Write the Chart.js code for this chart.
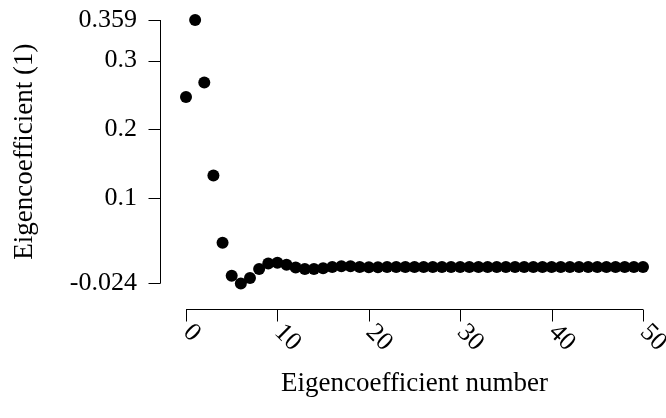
<!DOCTYPE html>
<html>
<head>
<meta charset="utf-8">
<script src="https://cdn.jsdelivr.net/npm/chart.js@4/dist/chart.umd.min.js"></script>
<style>
  html, body { margin: 0; padding: 0; background: #fff; }
  #wrap { width: 666px; height: 418px; }
</style>
</head>
<body>
<div id="wrap"><canvas id="c" width="666" height="418"></canvas></div>
<script>
// ---- data ----
const coefficientNumbers = [
  0, 1, 2, 3, 4, 5, 6, 7, 8, 9,
  10, 11, 12, 13, 14, 15, 16, 17, 18, 19,
  20, 21, 22, 23, 24, 25, 26, 27, 28, 29,
  30, 31, 32, 33, 34, 35, 36, 37, 38, 39,
  40, 41, 42, 43, 44, 45, 46, 47, 48, 49, 50
];
const coefficientValues = [
  0.247, 0.359, 0.268, 0.133, 0.035, -0.013, -0.024, -0.016, -0.003, 0.005,
  0.006, 0.003, -0.001, -0.003, -0.003, -0.002, 0.000, 0.001, 0.001, 0.000,
  -0.0005, -0.0005, 0.000, 0.000, 0.000, 0.000, 0.000, 0.000, 0.000, 0.000,
  0.000, 0.000, 0.000, 0.000, 0.000, 0.000, 0.000, 0.000, 0.000, 0.000,
  0.000, 0.000, 0.000, 0.000, 0.000, 0.000, 0.000, 0.000, 0.000, 0.000, 0.000
];
const yTickValues = [-0.024, 0.1, 0.2, 0.3, 0.359];
const xTickValues = [0, 10, 20, 30, 40, 50];
const xTitle = 'Eigencoefficient number';
const yTitle = 'Eigencoefficient (1)';

// ---- styling ----
const FONT_FAMILY = '"Liberation Serif", "DejaVu Serif", serif';
const TICK_FONT_SIZE = 26;
const TITLE_FONT_SIZE = 27;
const AXIS_GAP = 26;     // detached axes offset from data range
const TICK_LEN = 12;

const points = coefficientNumbers.map((n, i) => ({ x: n, y: coefficientValues[i] }));

const detachedAxes = {
  id: 'detachedAxes',
  afterDraw(chart) {
    const { ctx, chartArea, scales } = chart;
    const xs = scales.x, ys = scales.y;
    ctx.save();
    ctx.strokeStyle = '#000';
    ctx.lineWidth = 1;
    // y axis
    const axX = Math.round(chartArea.left - AXIS_GAP) + 0.5;
    const yTop = ys.getPixelForValue(yTickValues[yTickValues.length - 1]);
    const yBot = ys.getPixelForValue(yTickValues[0]);
    ctx.beginPath();
    ctx.moveTo(axX, yTop);
    ctx.lineTo(axX, yBot);
    yTickValues.forEach(v => {
      const py = Math.round(ys.getPixelForValue(v)) + 0.5;
      ctx.moveTo(axX - TICK_LEN, py);
      ctx.lineTo(axX, py);
    });
    ctx.stroke();
    // x axis
    const axY = Math.round(chartArea.bottom + AXIS_GAP) + 0.5;
    const xL = xs.getPixelForValue(xTickValues[0]);
    const xR = xs.getPixelForValue(xTickValues[xTickValues.length - 1]);
    ctx.beginPath();
    ctx.moveTo(xL, axY);
    ctx.lineTo(xR, axY);
    xTickValues.forEach(v => {
      const px = Math.round(xs.getPixelForValue(v)) + 0.5;
      ctx.moveTo(px, axY);
      ctx.lineTo(px, axY + TICK_LEN);
    });
    ctx.stroke();
    // x tick labels, rotated clockwise
    ctx.fillStyle = '#000';
    ctx.font = TICK_FONT_SIZE + 'px ' + FONT_FAMILY;
    ctx.textAlign = 'left';
    ctx.textBaseline = 'middle';
    xTickValues.forEach(v => {
      const px = xs.getPixelForValue(v);
      ctx.save();
      ctx.translate(px + 1, axY + 19);
      ctx.rotate(Math.PI / 4);
      ctx.fillText(String(v), 0, 0);
      ctx.restore();
    });
    ctx.restore();
  }
};

new Chart(document.getElementById('c'), {
  type: 'scatter',
  data: {
    datasets: [{
      data: points,
      backgroundColor: '#000',
      borderColor: '#000',
      borderWidth: 0,
      pointRadius: 6,
      pointHoverRadius: 6,
      showLine: false,
      clip: false
    }]
  },
  options: {
    responsive: false,
    animation: false,
    devicePixelRatio: 1,
    layout: { padding: { left: 0, top: 20, right: 23, bottom: 0 } },
    plugins: { legend: { display: false }, tooltip: { enabled: false } },
    scales: {
      x: {
        type: 'linear',
        min: 0,
        max: 50,
        grid: { display: false },
        border: { display: false },
        ticks: { display: false },
        afterBuildTicks: s => { s.ticks = xTickValues.map(v => ({ value: v })); },
        afterFit: s => { s.height = 134.6; s.paddingLeft = 0; s.paddingRight = 0; },
        title: {
          display: true,
          text: xTitle,
          color: '#000',
          font: { family: FONT_FAMILY, size: TITLE_FONT_SIZE },
          padding: { top: 0, bottom: 18 }
        }
      },
      y: {
        type: 'linear',
        min: -0.024,
        max: 0.359,
        grid: { display: false },
        border: { display: false },
        afterBuildTicks: s => { s.ticks = yTickValues.map(v => ({ value: v })); },
        afterFit: s => { s.width = 186; s.paddingTop = 0; s.paddingBottom = 0; },
        ticks: {
          color: '#000',
          font: { family: FONT_FAMILY, size: TICK_FONT_SIZE },
          padding: 41,
          callback: v => String(v)
        },
        title: {
          display: true,
          text: yTitle,
          color: '#000',
          font: { family: FONT_FAMILY, size: TITLE_FONT_SIZE },
          padding: { top: 9, bottom: 0 }
        }
      }
    }
  },
  plugins: [detachedAxes]
});
</script>
</body>
</html>
